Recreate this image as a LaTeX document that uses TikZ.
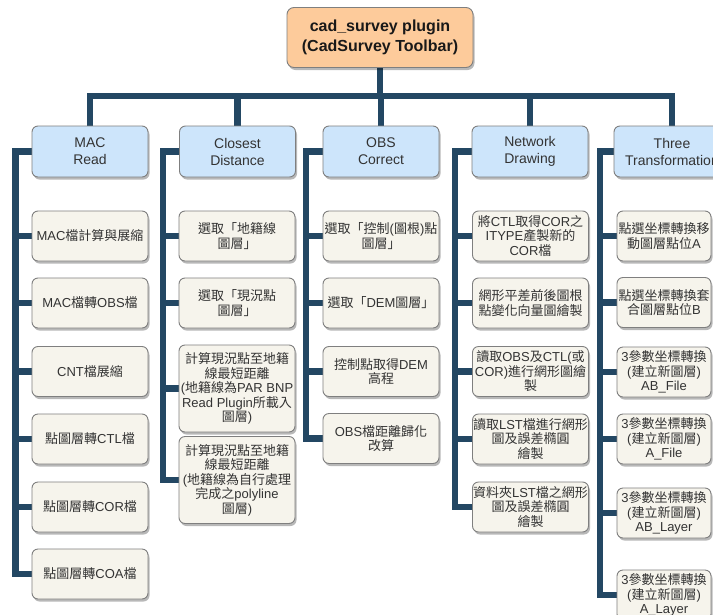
\documentclass[tikz,border=0pt]{standalone}
\usepackage{fontspec}
\setmainfont{Liberation Sans}
\newfontfamily\cjkfont{Noto Sans CJK TC}
\newfontfamily\latinfont{Liberation Sans}
% switch to the CJK family automatically for Han characters and CJK punctuation
\XeTeXinterchartokenstate=1
\newXeTeXintercharclass\CJKclass
\count255="2E80
\loop
  \XeTeXcharclass\count255=\CJKclass
  \ifnum\count255<"9FFF \advance\count255 by 1 \repeat
\count255="FF00
\loop
  \XeTeXcharclass\count255=\CJKclass
  \ifnum\count255<"FFEF \advance\count255 by 1 \repeat
\XeTeXinterchartoks 0 \CJKclass = {\cjkfont}
\XeTeXinterchartoks 4095 \CJKclass = {\cjkfont}
\XeTeXinterchartoks \CJKclass 0 = {\latinfont}
\XeTeXinterchartoks \CJKclass 4095 = {\latinfont}

\usetikzlibrary{shadows,backgrounds}

\definecolor{linkblue}{HTML}{234763}
\definecolor{boxedge}{HTML}{7F7F7F}
\definecolor{rootfill}{HTML}{FDCB9B}
\definecolor{headfill}{HTML}{CDE5FB}
\definecolor{leaffill}{HTML}{F6F4EC}
\definecolor{textgray}{HTML}{333333}

\tikzset{
  conn/.style={draw=linkblue, line width=6.5pt},
  anybox/.style={draw=boxedge, line width=0.9pt, rounded corners=6pt,
    inner sep=0pt, align=center,
    drop shadow={shadow xshift=1.5pt, shadow yshift=-2.5pt, fill=black, opacity=0.28}},
  rootbox/.style={anybox, fill=rootfill, rounded corners=7pt,
    minimum width=186pt, minimum height=60pt,
    font=\fontsize{16}{20}\selectfont\bfseries, text=black!90},
  headbox/.style={anybox, fill=headfill, minimum width=116pt, minimum height=51pt,
    font=\fontsize{14}{17}\selectfont, text=textgray},
  leafbox/.style={anybox, fill=leaffill, minimum width=116pt, minimum height=50pt,
    font=\fontsize{13}{14.5}\selectfont, text=textgray},
  tallbox/.style={leafbox, minimum height=87pt},
  narrowbox/.style={leafbox, minimum width=94pt},
}

\begin{document}
\begin{tikzpicture}[x=1pt,y=-1pt]
\useasboundingbox (0,0) rectangle (713,614);

% root
\node[rootbox] (root) at (380,37.5) {cad\_survey plugin\\(CadSurvey Toolbar)};

% module headers
\node[headbox] (hA) at (90,151.5)   {MAC\\Read};
\node[headbox] (hB) at (237.5,151.5){Closest\\Distance};
\node[headbox] (hC) at (381,151.5)  {OBS\\Correct};
\node[headbox] (hD) at (530,151.5)  {Network\\Drawing};
\node[headbox] (hE) at (672,151.5)  {Three\\Transformation};

% MAC Read
\node[leafbox] (a1) at (90,236)   {MAC檔計算與展縮};
\node[leafbox] (a2) at (90,303)   {MAC檔轉OBS檔};
\node[leafbox] (a3) at (90,371.5) {CNT檔展縮};
\node[leafbox] (a4) at (90,439)   {點圖層轉CTL檔};
\node[leafbox] (a5) at (90,507)   {點圖層轉COR檔};
\node[leafbox] (a6) at (90,574)   {點圖層轉COA檔};

% Closest Distance
\node[leafbox] (b1) at (237,236) {選取「地籍線\\圖層」};
\node[leafbox] (b2) at (237,303) {選取「現況點\\圖層」};
\node[tallbox] (b3) at (237,388.5) {計算現況點至地籍\\線最短距離\\(地籍線為PAR BNP\\Read Plugin所載入\\圖層)};
\node[tallbox] (b4) at (237,480) {計算現況點至地籍\\線最短距離\\(地籍線為自行處理\\完成之polyline\\圖層)};

% OBS Correct
\node[leafbox] (c1) at (381,236)   {選取「控制(圖根)點\\圖層」};
\node[leafbox] (c2) at (381,303)   {選取「DEM圖層」};
\node[leafbox] (c3) at (381,371.5) {控制點取得DEM\\高程};
\node[leafbox] (c4) at (381,438.5) {OBS檔距離歸化\\改算};

% Network Drawing
\node[leafbox] (d1) at (530.5,236)   {將CTL取得COR之\\ITYPE產製新的\\COR檔};
\node[leafbox] (d2) at (530.5,303)   {網形平差前後圖根\\點變化向量圖繪製};
\node[leafbox] (d3) at (530.5,371.5) {讀取OBS及CTL(或\\COR)進行網形圖繪\\製};
\node[leafbox] (d4) at (530.5,439)   {讀取LST檔進行網形\\圖及誤差橢圓\\繪製};
\node[leafbox] (d5) at (530.5,507)   {資料夾LST檔之網形\\圖及誤差橢圓\\繪製};

% Three Transformation
\node[narrowbox] (e1) at (664,236)   {點選坐標轉換移\\動圖層點位A};
\node[narrowbox] (e2) at (664,302.5) {點選坐標轉換套\\合圖層點位B};
\node[narrowbox] (e3) at (664,372)   {3參數坐標轉換\\(建立新圖層)\\AB\_File};
\node[narrowbox] (e4) at (664,439)   {3參數坐標轉換\\(建立新圖層)\\A\_File};
\node[narrowbox] (e5) at (664,513)   {3參數坐標轉換\\(建立新圖層)\\AB\_Layer};
\node[narrowbox] (e6) at (664,595)   {3參數坐標轉換\\(建立新圖層)\\A\_Layer};

% spine positions
\coordinate (hub) at (380,96);
\coordinate (sA) at (15.5,151.5);
\coordinate (sB) at (163,151.5);
\coordinate (sC) at (306,151.5);
\coordinate (sD) at (455,151.5);
\coordinate (sE) at (600,151.5);

\begin{scope}[on background layer]
  \fill[white] (0,0) rectangle (713,614);
  % trunk and top bar
  \draw[conn] (root.south) -- (hub);
  \draw[conn] (hA.north) |- (hub) -| (hE.north);
  \foreach \h in {hB,hC,hD}
    \draw[conn] (\h.north) -- (\h.north |- hub);
  % column spines
  \draw[conn] (hA.west) -- (sA) |- (a6.west);
  \foreach \n in {a1,a2,a3,a4,a5}
    \draw[conn] (sA |- \n.west) -- (\n.west);
  \draw[conn] (hB.west) -- (sB) |- (b4.west);
  \foreach \n in {b1,b2,b3}
    \draw[conn] (sB |- \n.west) -- (\n.west);
  \draw[conn] (hC.west) -- (sC) |- (c4.west);
  \foreach \n in {c1,c2,c3}
    \draw[conn] (sC |- \n.west) -- (\n.west);
  \draw[conn] (hD.west) -- (sD) |- (d5.west);
  \foreach \n in {d1,d2,d3,d4}
    \draw[conn] (sD |- \n.west) -- (\n.west);
  \draw[conn] (hE.west) -- (sE) |- (e6.west);
  \foreach \n in {e1,e2,e3,e4,e5}
    \draw[conn] (sE |- \n.west) -- (\n.west);
\end{scope}
\end{tikzpicture}
\end{document}
